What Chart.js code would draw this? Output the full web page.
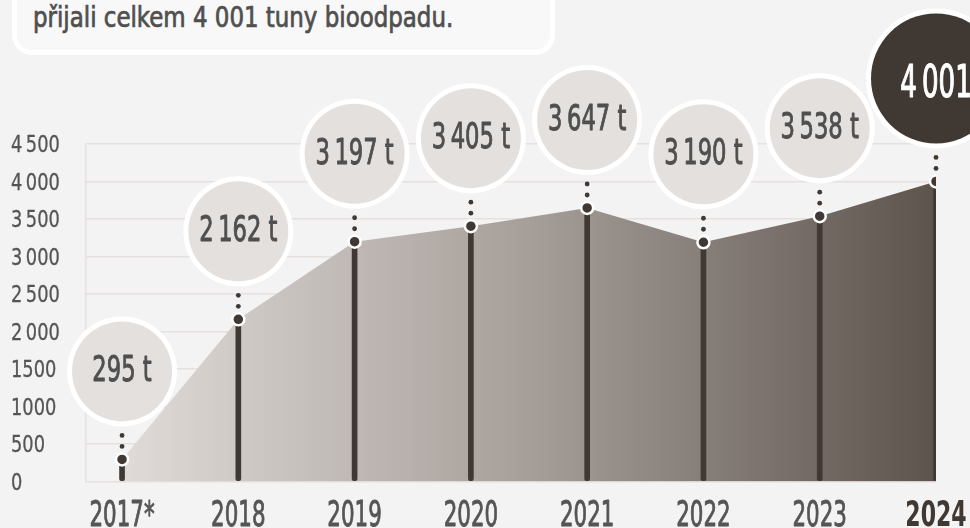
<!DOCTYPE html>
<html lang="cs">
<head>
<meta charset="utf-8">
<title>Bioodpad</title>
<script src="https://cdn.jsdelivr.net/npm/chart.js@4"></script>
<style>
  html, body { margin: 0; padding: 0; background: #f3f3f3; overflow: hidden; }
  #wrap { position: relative; width: 970px; height: 528px; }
  #chart { position: absolute; left: 0; top: 0; }
  #note {
    position: absolute; left: 12px; top: -40px; width: 543px; height: 95px;
    box-sizing: border-box; background: #f8f8f8;
    border: 5px solid #fff; border-top: none; border-radius: 0 0 20px 20px;
  }
  #noteText {
    position: absolute; left: 33px; top: 4px; line-height: 28px; white-space: nowrap;
    font-family: "DejaVu Sans Condensed", "Liberation Sans Narrow", sans-serif;
    font-size: 28px; color: #4f4f4f;
    -webkit-text-stroke: 0.7px #4f4f4f;
    transform: scaleX(0.91); transform-origin: 0 0;
  }
</style>
</head>
<body>
<div id="wrap">
  <canvas id="chart" width="970" height="528"></canvas>
  <div id="note"></div>
  <div id="noteText">přijali celkem 4&nbsp;001 tuny bioodpadu.</div>
</div>
<script>
// Bioodpad přijatý v jednotlivých letech (t)
const years = ['2017*', '2018', '2019', '2020', '2021', '2022', '2023', '2024'];
const tonnes = [295, 2162, 3197, 3405, 3647, 3190, 3538, 4001];
const yTickValues = [0, 500, 1000, 1500, 2000, 2500, 3000, 3500, 4000, 4500];
const yTickLabels = ['0', '500', '1000', '1500', '2\u2009000', '2\u2009500', '3\u2009000', '3\u2009500', '4\u2009000', '4\u2009500'];
const highlightIndex = years.length - 1;

const FONT = '"DejaVu Sans Condensed", "Liberation Sans Narrow", sans-serif';
const DARK = '#3f3833';
const TEXT = '#555555';
const GRID = '#e6e0df';

// thousands separated with a thin space
const fmt = v => {
  const s = String(v);
  return s.length > 3 ? s.slice(0, -3) + '\u2009' + s.slice(-3) : s;
};

const points = tonnes.map((v, i) => ({ x: i, y: v }));

// text in a narrow, condensed cut (optional outline gives a medium weight)
function drawNarrow(ctx, text, x, y, size, weight, color, squeeze, align, stroke) {
  ctx.save();
  ctx.font = weight + ' ' + size + 'px ' + FONT;
  ctx.fillStyle = color;
  ctx.strokeStyle = color;
  ctx.textAlign = align;
  ctx.textBaseline = 'alphabetic';
  ctx.translate(x, y);
  ctx.scale(squeeze, 1);
  ctx.fillText(text, 0, 0);
  if (stroke) {
    ctx.lineWidth = stroke;
    ctx.lineJoin = 'round';
    ctx.strokeText(text, 0, 0);
  }
  ctx.restore();
}

// axis labels placed at the scales' own tick positions
const axisLabels = {
  id: 'axisLabels',
  afterDraw(chart) {
    const ctx = chart.ctx;
    const xs = chart.scales.x, ys = chart.scales.y;
    ys.ticks.forEach((t, i) => {
      const y = ys.getPixelForValue(t.value);
      drawNarrow(ctx, yTickLabels[i], ys.left + 1, y + 8.4, 23, 'normal', TEXT, 0.86, 'left', 0.3);
    });
    xs.ticks.forEach((t, i) => {
      const x = xs.getPixelForValue(t.value);
      const hi = i === highlightIndex;
      drawNarrow(ctx, years[i], x, xs.top + 44, 35, hi ? 'bold' : 'normal', hi ? DARK : TEXT,
        hi ? 0.7 : 0.68, 'center', hi ? 0 : 0.9);
    });
  }
};

// value bubbles with the dotted connector above every point
const bubbles = {
  id: 'bubbles',
  afterDraw(chart) {
    const ctx = chart.ctx;
    const meta = chart.getDatasetMeta(0);
    meta.data.forEach((pt, i) => {
      const x = pt.x, y = pt.y;
      const hi = i === highlightIndex;
      const R = hi ? 70 : 55;
      const cy = y - 33 - R;
      ctx.save();
      ctx.fillStyle = DARK;
      [24, 13].forEach(d => {
        ctx.beginPath();
        ctx.arc(x, y - d, 2.4, 0, Math.PI * 2);
        ctx.fill();
      });
      ctx.beginPath();
      ctx.arc(x, cy, R, 0, Math.PI * 2);
      ctx.fillStyle = '#ffffff';
      ctx.fill();
      ctx.beginPath();
      ctx.arc(x, cy, R - 5, 0, Math.PI * 2);
      ctx.fillStyle = hi ? DARK : '#e4e0de';
      ctx.fill();
      ctx.restore();
      const size = hi ? 45 : 36;
      const label = hi ? fmt(tonnes[i]) : fmt(tonnes[i]) + ' t';
      drawNarrow(ctx, label, x, cy + (hi ? 2 : -3) + 0.3645 * size, size, 'normal',
        hi ? '#ffffff' : '#4f4f4f', hi ? 0.645 : 0.7, 'center', hi ? 1.2 : 0.9);
    });
  }
};

const areaGradient = (c) => {
  const chart = c.chart;
  const xs = chart.scales.x;
  if (!chart.chartArea || !xs) return '#aaa29d';
  const g = chart.ctx.createLinearGradient(xs.getPixelForValue(0), 0, xs.getPixelForValue(years.length - 1), 0);
  g.addColorStop(0, '#e0dbd8');
  g.addColorStop(0.5, '#a69e99');
  g.addColorStop(1, '#5d544e');
  return g;
};

new Chart(document.getElementById('chart'), {
  data: {
    datasets: [
      {
        type: 'line',
        label: 'Bioodpad (t)',
        data: points,
        order: 0,
        fill: 'origin',
        backgroundColor: areaGradient,
        borderWidth: 0,
        borderColor: 'rgba(0,0,0,0)',
        tension: 0,
        pointRadius: 6,
        pointHoverRadius: 6,
        pointBorderWidth: 2.5,
        pointBorderColor: '#ffffff',
        pointBackgroundColor: DARK
      },
      {
        type: 'bar',
        label: 'stem',
        data: points,
        order: 1,
        backgroundColor: DARK,
        barThickness: 5,
        borderRadius: 2,
        borderSkipped: false
      }
    ]
  },
  options: {
    responsive: false,
    animation: false,
    events: [],
    layout: { padding: { left: 10, right: 34, top: 144, bottom: 0 } },
    plugins: {
      legend: { display: false },
      tooltip: { enabled: false },
      filler: { drawTime: 'beforeDatasetsDraw' }
    },
    scales: {
      x: {
        type: 'linear',
        min: -0.31,
        max: years.length - 1,
        offset: false,
        grid: { display: false },
        border: { display: false },
        afterBuildTicks: s => { s.ticks = years.map((_, i) => ({ value: i })); },
        afterFit: s => { s.height = 46.5; },
        ticks: { display: false, callback: v => years[v] }
      },
      y: {
        type: 'linear',
        min: 0,
        max: 4500,
        afterBuildTicks: s => { s.ticks = yTickValues.map(v => ({ value: v })); },
        afterFit: s => { s.width = 76; },
        grid: { color: GRID, lineWidth: 1.5, drawTicks: false },
        border: { display: true, color: GRID, width: 1.5 },
        ticks: { display: false, callback: (v, i) => yTickLabels[i] }
      }
    }
  },
  plugins: [axisLabels, bubbles]
});
</script>
</body>
</html>
